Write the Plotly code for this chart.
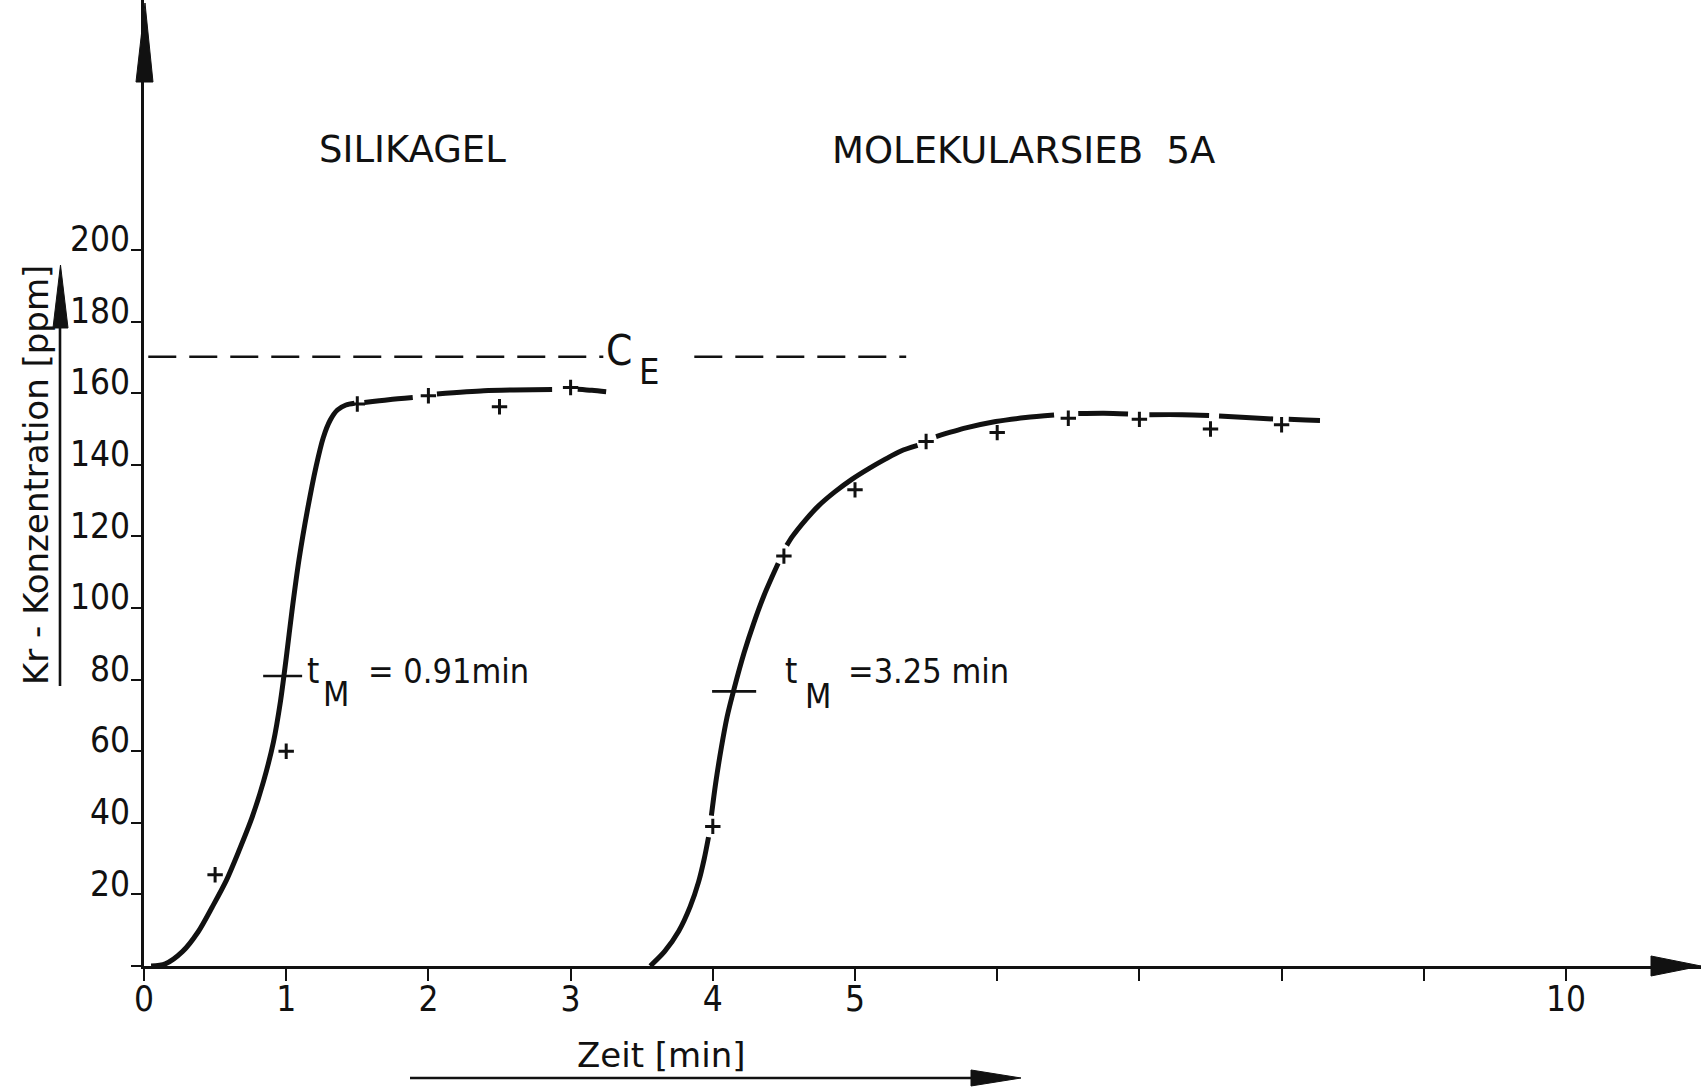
import plotly.graph_objects as go

# ---------------------------------------------------------------- data
# time axis [min] and concentration axis [ppm]
TIME_TICKS = list(range(0, 11))
TIME_TICK_LABELS = ["0", "1", "2", "3", "4", "5", "", "", "", "", "10"]
CONC_TICKS = list(range(0, 201, 20))
CONC_TICK_LABELS = [""] + [str(v) for v in range(20, 201, 20)]

# inlet concentration C_E [ppm]
C_E = 170.2

# measured Kr concentrations (crosses)
SILIKAGEL_T = [0.5, 1.0, 1.5, 2.0, 2.5, 3.0]
SILIKAGEL_C = [25.5, 60.0, 157.0, 159.3, 156.2, 161.6]
MOLSIEB_T = [4.0, 4.5, 5.0, 5.5, 6.0, 6.5, 7.0, 7.5, 8.0]
MOLSIEB_C = [39.0, 114.5, 133.0, 146.5, 149.0, 153.0, 152.7, 150.0, 151.2]

# breakthrough curves drawn through the points (None = pen lifted at a cross)
SILIKAGEL_CURVE_T = [0.05, 0.15, 0.27, 0.38, 0.48, 0.58, 0.67, 0.76, 0.84,
                     0.91, 0.96, 1.00, 1.04, 1.09, 1.15, 1.21, 1.26, 1.31,
                     1.36, 1.42, 1.48, None,
                     1.55, 1.72, 1.89, None,
                     2.06, 2.39, 2.60, 2.87, None,
                     3.05, 3.15, 3.25]
SILIKAGEL_CURVE_C = [0.0, 0.6, 4.0, 9.5, 16.5, 24.0, 32.4, 41.5, 51.5,
                     62.5, 74.0, 86.0, 99.0, 113.5, 127.5, 139.5, 147.5, 152.5,
                     155.3, 156.7, 157.2, None,
                     157.4, 158.2, 158.8, None,
                     159.8, 160.7, 160.9, 161.0, None,
                     161.1, 160.8, 160.4]

MOLSIEB_CURVE_T = [3.56, 3.66, 3.76, 3.84, 3.90, 3.94, 3.97, None,
                   3.99, 4.02, 4.06, 4.10, 4.15, 4.22, 4.29, 4.36, 4.42, 4.46, None,
                   4.52, 4.56, 4.65, 4.74, 4.86, 4.98, 5.10, 5.21, 5.32, 5.44, None,
                   5.57, 5.78, 5.99, 6.20, 6.40, None,
                   6.57, 6.75, 6.92, None,
                   7.07, 7.30, 7.49, None,
                   7.56, 7.75, 7.94, None,
                   8.05, 8.17, 8.27]
MOLSIEB_CURVE_C = [0.0, 4.0, 9.7, 16.5, 23.5, 30.0, 36.0, None,
                   42.0, 51.0, 61.0, 69.5, 77.5, 87.5, 96.0, 103.5, 109.0, 112.5, None,
                   117.5, 120.0, 124.5, 128.4, 132.5, 136.0, 139.0, 141.5, 143.8, 145.4, None,
                   147.9, 150.3, 152.1, 153.2, 153.9, None,
                   154.3, 154.4, 154.2, None,
                   154.0, 154.0, 153.8, None,
                   153.6, 153.2, 152.8, None,
                   152.7, 152.5, 152.4]

# half-height marks on both curves and the stated mean residence times
TM_MARK_T = [0.975, 4.15]
TM_MARK_C = [81.0, 76.7]
TM_TEXT = ["= 0.91min", "=3.25 min"]

# ---------------------------------------------------------------- layout
W, H = 1701, 1088
ML, MB = 144, 122              # plot area: x 144..1701 px, y 0..966 px
PW, PH = W - ML, H - MB
X_MAX = PW / 142.2             # 142.2 px per minute
Y_MAX = PH / 3.58              # 3.58 px per ppm

INK = "#111111"
NARROW = "DejaVu Sans Condensed, Liberation Sans Narrow, sans-serif"
WIDE = "DejaVu Sans, Liberation Sans, sans-serif"
CE_SPANS = [(0.03, 3.23), (3.87, 5.36)]
TM_HALF_WIDTH = [0.137, 0.155]  # half length of the t_M marks [min]


def px(x):
    """pixel column -> paper x"""
    return (x - ML) / PW


def py(y):
    """pixel row -> paper y"""
    return (PH - y) / PH


fig = go.Figure()

# C_E reference line
ce_x, ce_y = [], []
for a, b in CE_SPANS:
    ce_x += [a, b, None]
    ce_y += [C_E, C_E, None]
fig.add_trace(go.Scatter(x=ce_x, y=ce_y, mode="lines",
                         line=dict(color=INK, width=2.4, dash="28px,13px"),
                         hoverinfo="skip", showlegend=False))

# breakthrough curves
for cx, cy in [(SILIKAGEL_CURVE_T, SILIKAGEL_CURVE_C),
               (MOLSIEB_CURVE_T, MOLSIEB_CURVE_C)]:
    fig.add_trace(go.Scatter(x=cx, y=cy, mode="lines", connectgaps=False,
                             line=dict(color=INK, width=5, shape="spline", smoothing=0.8),
                             showlegend=False))

# measured points
for mx, my in [(SILIKAGEL_T, SILIKAGEL_C), (MOLSIEB_T, MOLSIEB_C)]:
    fig.add_trace(go.Scatter(x=mx, y=my, mode="markers",
                             marker=dict(symbol="cross-thin", size=11,
                                         line=dict(color=INK, width=3)),
                             showlegend=False))

# t_M marks: short horizontal strokes across each curve
tm_x, tm_y = [], []
for t, c, hw in zip(TM_MARK_T, TM_MARK_C, TM_HALF_WIDTH):
    tm_x += [t - hw, t + hw, None]
    tm_y += [c, c, None]
fig.add_trace(go.Scatter(x=tm_x, y=tm_y, mode="lines",
                         line=dict(color=INK, width=2.6), showlegend=False))

# ---------------------------------------------------------------- axes
fig.update_xaxes(range=[0, X_MAX], tickmode="array", tickvals=TIME_TICKS,
                 ticktext=TIME_TICK_LABELS, ticks="outside", ticklen=12, tickwidth=2.4,
                 tickcolor=INK, showline=True, linewidth=3, linecolor=INK,
                 showgrid=False, zeroline=False, ticklabelstandoff=-12,
                 tickfont=dict(family=NARROW, size=35, color=INK))
fig.update_yaxes(range=[0, Y_MAX], tickmode="array", tickvals=CONC_TICKS,
                 ticktext=CONC_TICK_LABELS, ticks="outside", ticklen=10, tickwidth=2.4,
                 tickcolor=INK, showline=True, linewidth=3, linecolor=INK,
                 showgrid=False, zeroline=False, ticklabelshift=-11, ticklabelstandoff=-6,
                 tickfont=dict(family=NARROW, size=35, color=INK))

# ---------------------------------------------------------------- arrows
def tri(points):
    d = "M " + " L ".join(f"{px(a):.5f},{py(b):.5f}" for a, b in points) + " Z"
    return dict(type="path", xref="paper", yref="paper", path=d,
                fillcolor=INK, line=dict(color=INK, width=1))


def seg(x0, y0, x1, y1, w=2.6):
    return dict(type="line", xref="paper", yref="paper",
                x0=px(x0), y0=py(y0), x1=px(x1), y1=py(y1),
                line=dict(color=INK, width=w))


shapes = [
    tri([(136, 82), (145, 3), (153, 82)]),            # concentration axis head
    tri([(1651, 956), (1701, 966), (1651, 976)]),     # time axis head
    seg(60, 686, 60, 300),                            # arrow beside the y title
    tri([(53, 328), (60.5, 265), (68, 328)]),
    seg(410, 1078, 975, 1078),                        # arrow under the x title
    tri([(971, 1070), (1021, 1078), (971, 1086)]),
]

# ---------------------------------------------------------------- texts
def label(text, x, y, size, anchor="center", angle=0, family=NARROW):
    return dict(text=text, xref="paper", yref="paper", x=px(x), y=py(y),
                xanchor=anchor, yanchor="middle", showarrow=False, textangle=angle,
                font=dict(family=family, size=size, color=INK))


annotations = [
    label("SILIKAGEL", 412, 150, 37, family=WIDE),
    label("MOLEKULARSIEB  5A", 1023, 151, 37, family=WIDE),
    label("C", 619, 351, 42),
    label("E", 649, 372, 36),
    label("t", 305, 671, 35, "left"),
    label("M", 321, 694, 34, "left"),
    label(TM_TEXT[0], 366, 671, 34, "left"),
    label("t", 783, 671, 35, "left"),
    label("M", 803, 696, 34, "left"),
    label(TM_TEXT[1], 846, 671, 34, "left"),
    label("Kr - Konzentration [ppm]", 36, 475, 34, angle=-90, family=WIDE),
    label("Zeit [min]", 661, 1055, 34, family=WIDE),
]

fig.update_layout(width=W, height=H, autosize=False,
                  margin=dict(l=ML, r=0, t=0, b=MB, pad=0),
                  paper_bgcolor="white", plot_bgcolor="white",
                  shapes=shapes, annotations=annotations, showlegend=False)

fig.write_html("out.html")
